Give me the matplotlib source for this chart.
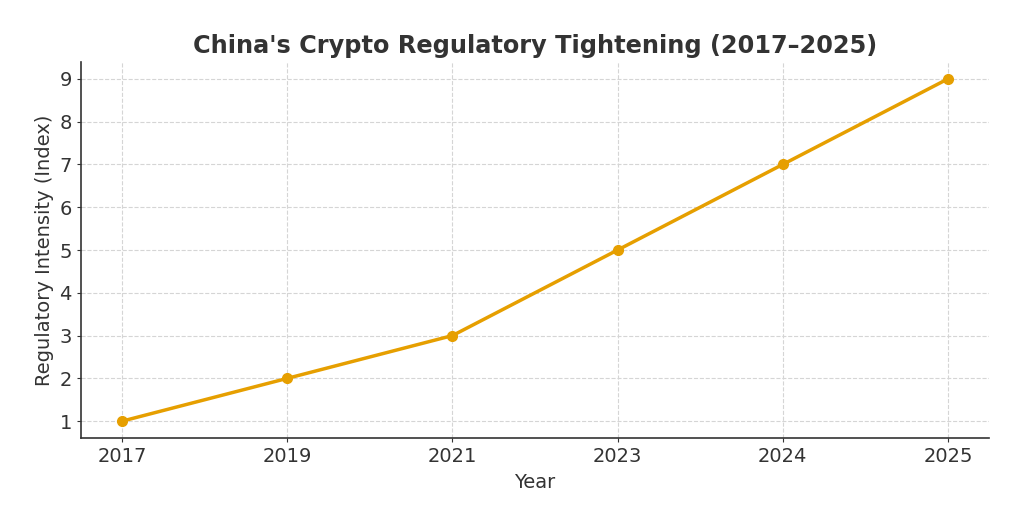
import matplotlib.pyplot as plt

# Data
years = ['2017', '2019', '2021', '2023', '2024', '2025']
intensity = [1, 2, 3, 5, 7, 9]

plt.rcParams['text.color'] = '#333333'
plt.rcParams['axes.labelcolor'] = '#333333'
plt.rcParams['xtick.color'] = '#333333'
plt.rcParams['ytick.color'] = '#333333'

fig, ax = plt.subplots(figsize=(10.24, 5.28), dpi=100)
ax.plot(range(len(years)), intensity, color='#E69F00', linewidth=2.5,
        marker='o', markersize=7)
ax.set_xticks(range(len(years)))
ax.set_xticklabels(years)
ax.set_yticks(range(1, 10))

ax.set_title("China's Crypto Regulatory Tightening (2017\u20132025)",
             fontsize=17.3, fontweight='bold', pad=6)
ax.set_xlabel('Year', fontsize=14, labelpad=5)
ax.set_ylabel('Regulatory Intensity (Index)', fontsize=14)
ax.tick_params(labelsize=14, length=3)
ax.grid(True, linestyle='--', color='#d5d5d5', linewidth=0.8)
ax.set_axisbelow(True)
for s in ['top', 'right']:
    ax.spines[s].set_visible(False)
for s in ['left', 'bottom']:
    ax.spines[s].set_color('#333333')
    ax.spines[s].set_linewidth(1.2)

fig.subplots_adjust(left=0.079, right=0.966, top=0.883, bottom=0.17)
fig.savefig('out.png', dpi=100)
